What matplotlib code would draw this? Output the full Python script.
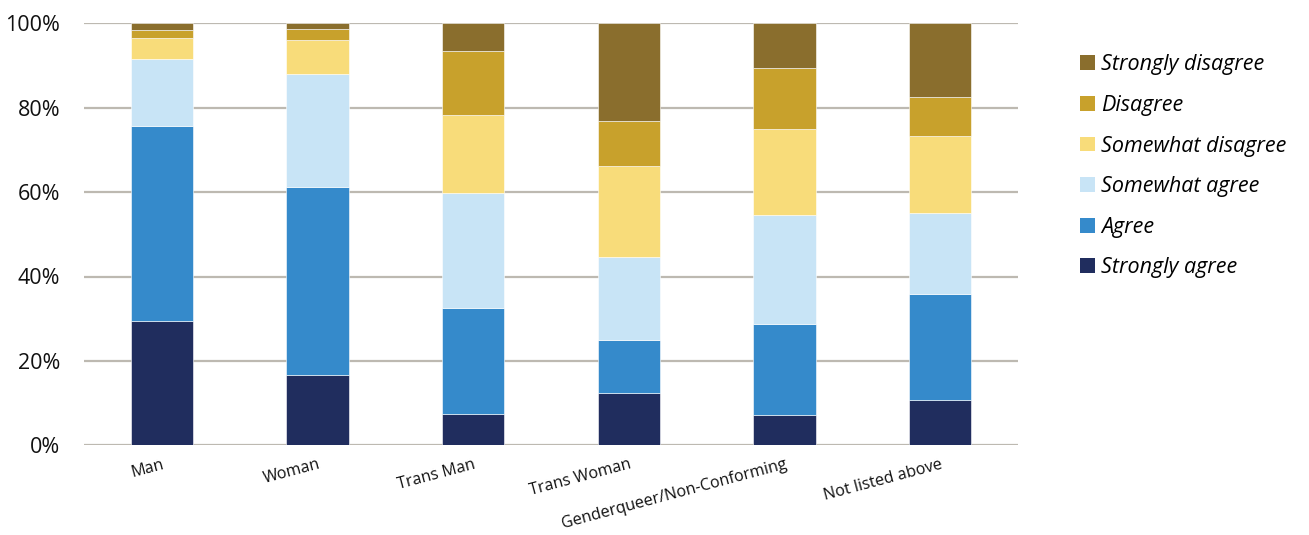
import matplotlib
matplotlib.use("Agg")
import matplotlib.pyplot as plt
from matplotlib.patches import Patch
import numpy as np

categories = ["Man", "Woman", "Trans Man", "Trans Woman",
              "Genderqueer/Non-Conforming", "Not listed above"]

responses = ["Strongly agree", "Agree", "Somewhat agree",
             "Somewhat disagree", "Disagree", "Strongly disagree"]

strongly_agree = [29.5, 16.7, 7.5, 12.5, 7.1, 10.8]
agree = [46.1, 44.5, 25.1, 12.5, 21.7, 25.0]
somewhat_agree = [16.0, 26.8, 27.2, 19.6, 25.7, 19.2]
somewhat_disagree = [5.0, 8.0, 18.5, 21.5, 20.4, 18.4]
disagree = [1.7, 2.6, 15.1, 10.7, 14.5, 9.1]
strongly_disagree = [1.7, 1.4, 6.6, 23.2, 10.6, 17.5]

colors = ["#202D5E", "#358ACB", "#C8E4F6", "#F8DC7A", "#C8A12C", "#8A6E2D"]

series = [strongly_agree, agree, somewhat_agree,
          somewhat_disagree, disagree, strongly_disagree]

plt.rcParams["font.family"] = ["Open Sans", "DejaVu Sans"]

fig = plt.figure(figsize=(13.09, 5.35), dpi=100)
ax = fig.add_axes([84 / 1309, 1 - 445.3 / 535, (1018 - 84) / 1309, (445.3 - 23.3) / 535])

x = np.arange(len(categories))
bottom = np.zeros(len(categories))
for vals, col in zip(series, colors):
    v = np.array(vals)
    ax.bar(x, v, width=0.4, bottom=bottom, color=col,
           edgecolor="white", linewidth=0.4, zorder=3)
    bottom += v

ax.set_xlim(-0.5, len(categories) - 0.5)
ax.set_ylim(0, 100)
ax.set_yticks(np.arange(0, 101, 20))
ax.set_yticklabels([f"{t}%" for t in range(0, 101, 20)], fontsize=15.5, color="#111111")
ax.yaxis.grid(True, color="#BDB9B1", linewidth=1.6, zorder=0)
ax.set_axisbelow(True)
for s in ax.spines.values():
    s.set_visible(False)
ax.tick_params(axis="both", length=0)
ax.tick_params(axis="y", pad=17)

ax.set_xticks(x)
ax.set_xticklabels(categories, fontsize=11.6, rotation=15,
                   ha="right", va="top", rotation_mode="anchor", color="#111111")
ax.tick_params(axis="x", pad=8)

handles = [Patch(facecolor=c, edgecolor="none") for c in colors][::-1]
labels = responses[::-1]
leg = fig.legend(handles, labels, loc="upper left",
                 bbox_to_anchor=(1061 / 1309, 1 - 35 / 535),
                 frameon=False, handlelength=0.68, handleheight=0.68,
                 handletextpad=0.3, labelspacing=0.91,
                 prop={"family": "Open Sans", "style": "italic", "size": 15.5})

fig.savefig("out.png", dpi=100)
